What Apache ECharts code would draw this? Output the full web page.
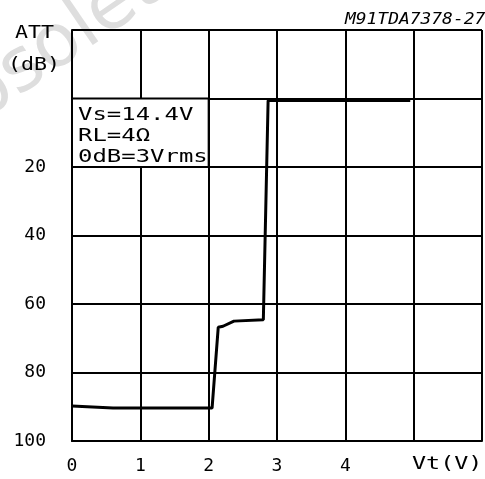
<!DOCTYPE html>
<html>
<head>
<meta charset="utf-8">
<title>TDA7378 attenuation vs Vt</title>
<script src="https://cdn.jsdelivr.net/npm/echarts@6/dist/echarts.min.js"></script>
<style>
  html, body { margin: 0; padding: 0; background: #fff; }
  #main { width: 485px; height: 479px; }
</style>
</head>
<body>
<div id="main"></div>
<script>
// curve: Vt (V) -> attenuation (dB)
var vt  = [0, 0.6, 2.05, 2.14, 2.21, 2.37, 2.8, 2.87, 4.95];
var att = [89.8, 90.4, 90.4, 66.8, 66.5, 65.0, 64.6, 0.6, 0.6];

var xTicks = [0, 1, 2, 3, 4];
var yTicks = [20, 40, 60, 80, 100];
var notes = ['Vs=14.4V', 'RL=4Ω', '0dB=3Vrms'];

var font = 'DejaVu Sans Mono';

var points = [];
for (var i = 0; i < vt.length; i++) {
  points.push([vt[i], att[i]]);
}

var chart = echarts.init(document.getElementById('main'));

var option = {
  animation: false,
  backgroundColor: '#fff',
  grid: { left: 72, right: 3, top: 30, bottom: 38 },
  xAxis: {
    type: 'value',
    min: 0, max: 6, interval: 1,
    axisLine: { onZero: false, lineStyle: { color: '#000', width: 2 } },
    axisTick: { show: false },
    splitLine: { lineStyle: { color: '#000', width: 2 } },
    axisLabel: {
      margin: 16, color: '#000', fontFamily: font, fontSize: 18,
      formatter: function (v) { return xTicks.indexOf(v) >= 0 ? String(v) : ''; }
    }
  },
  yAxis: {
    type: 'value',
    inverse: true,
    min: -20, max: 100, interval: 20,
    axisLine: { lineStyle: { color: '#000', width: 2 } },
    axisTick: { show: false },
    splitLine: { lineStyle: { color: '#000', width: 2 } },
    axisLabel: {
      margin: 26, color: '#000', fontFamily: font, fontSize: 18,
      formatter: function (v) { return yTicks.indexOf(v) >= 0 ? String(v) : ''; }
    }
  },
  series: [{
    type: 'line',
    data: points,
    symbol: 'none',
    z: 5,
    lineStyle: { color: '#000', width: 3 },
    markArea: {
      silent: true,
      itemStyle: { color: '#fff', borderColor: '#000', borderWidth: 2 },
      data: [[{ coord: [0, 0] }, { coord: [2, 20] }]]
    }
  }],
  graphic: [
    // faint watermark
    {
      type: 'text', x: -80, y: 140, rotation: 0.6, z: 0,
      style: { text: 'Obsolete', fontFamily: 'DejaVu Sans', fontSize: 74, fill: '#dedede', verticalAlign: 'middle' }
    },
    {
      type: 'text', x: 78, y: 105, scaleX: 1.33, z: 20,
      style: { text: notes.join('\n'), fontFamily: font, fontSize: 18, lineHeight: 21, fill: '#000' }
    },
    {
      type: 'text', x: 15, y: 24, scaleX: 1.2, z: 20,
      style: { text: 'ATT', fontFamily: font, fontSize: 18, fill: '#000' }
    },
    {
      type: 'text', x: 8, y: 56, scaleX: 1.2, z: 20,
      style: { text: '(dB)', fontFamily: font, fontSize: 18, fill: '#000' }
    },
    {
      type: 'text', x: 412, y: 455, scaleX: 1.3, z: 20,
      style: { text: 'Vt(V)', fontFamily: font, fontSize: 18, fill: '#000' }
    },
    {
      type: 'text', x: 345, y: 12, scaleX: 1.12, z: 20,
      style: { text: 'M91TDA7378-27', fontFamily: font, fontStyle: 'italic', fontSize: 16, fill: '#000' }
    }
  ]
};

chart.setOption(option);
</script>
</body>
</html>
